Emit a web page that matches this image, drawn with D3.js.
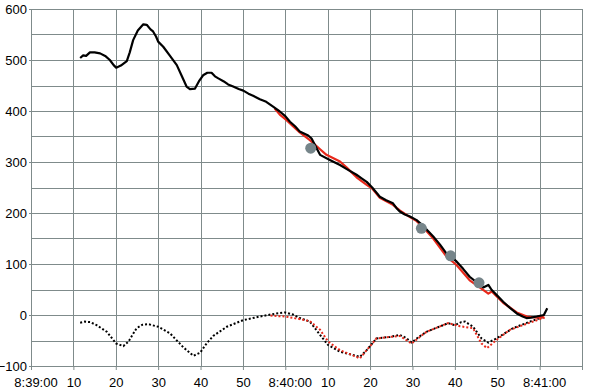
<!DOCTYPE html>
<html>
<head>
<meta charset="utf-8">
<script src="https://cdn.jsdelivr.net/npm/d3@7"></script>
<style>
  body { margin: 0; background: #fff; }
  svg text { font-family: "Liberation Sans", Arial, sans-serif; font-size: 13px; fill: #000; }
  .grid line { stroke: #7f8b8b; stroke-width: 1; }
  .axis path { display: none; }
  .axis line { stroke: #7f8b8b; }
</style>
</head>
<body>
<svg width="600" height="392"></svg>
<script>
// seconds after 8:39:00
var blackLine = [[11.6,504],[12.3,509],[13.0,508],[13.9,515],[15,515],[16.3,513],[17.5,508],[18.6,500],[19.5,490],[20.1,485],[21.2,489],[22.6,498],[23.3,515],[24.1,539],[25.2,558],[26.5,570],[27.3,569],[28.2,560],[28.8,556],[29.5,546],[30.0,536],[31.2,526],[32.8,508],[34.4,490],[35.6,468],[36.7,448],[37.5,443],[38.7,444],[39.6,458],[40.6,470],[41.6,475],[42.6,475],[43.4,468],[44.2,464],[45.5,458],[46.5,452],[47.7,448],[49,443],[50.1,440],[51.3,434],[52.4,430],[54.0,423],[55.5,418],[57.2,408],[58.7,399],[60,390],[61.1,379],[62.3,370],[63.4,360],[65.4,352],[66.2,346],[67.2,330],[68.2,314],[70.5,304],[72.9,294],[74.5,286],[76.8,275],[78,268],[79.2,261],[80.5,250],[82.3,232],[83.8,225],[85.4,219],[86.2,210],[87.0,203],[88.2,197],[89.4,193],[91.0,186],[92.5,175],[94.9,154],[96.5,138],[98.0,121],[100.4,105],[102,90],[103.5,75],[105,65],[106.7,54],[107.9,59],[108.7,49],[110,38],[111.4,26],[113,14],[114.6,3],[116,-3],[116.9,-6],[118,-5],[119.3,-3],[121,0],[121.8,13]];

var redLine = [[57.5,405],[58.7,393],[60.3,382],[61.8,370],[63.4,358],[65.8,343],[68.2,325],[69.7,314],[72.9,301],[74.5,289],[76.8,270],[79.2,255],[80.5,248],[82.3,230],[85.4,216],[87,205],[89.4,192],[91,184],[92.5,172],[94.9,150],[98,115],[100.4,98],[103.5,68],[105.7,55],[107.9,42],[108.7,46],[111.4,24],[114.6,5],[117,-3],[119.3,-5],[121,-4]];

var blackDotted = [[11.6,-15],[12.7,-13],[14,-14],[15.5,-20],[17.9,-33],[20.1,-56],[21.8,-61],[23.0,-52],[24.9,-26],[26.3,-19],[27.7,-18],[30.0,-23],[32.8,-36],[35.9,-63],[38.3,-80],[39.9,-74],[41.5,-55],[43.0,-41],[46.2,-23],[50.1,-10],[54.0,-3],[57.9,3],[59.9,5],[61.8,1],[63.4,-6],[65.8,-13],[68.2,-39],[70.1,-59],[72.9,-72],[77.6,-82],[79.2,-69],[81.5,-46],[84.7,-43],[87,-39],[88.5,-45],[89.8,-54],[91.5,-43],[93.3,-33],[96,-24],[98.4,-16],[100,-20],[101.5,-14],[102.4,-13],[104.3,-23],[106.3,-46],[107.9,-54],[109.8,-46],[113.7,-26],[117.7,-13],[121.2,-3]];

var redDotted = [[56.5,-1],[57.9,-2],[60,-3],[63.4,-8],[65.8,-12],[68.2,-29],[70.1,-52],[72.9,-69],[77.6,-85],[79.2,-69],[81.5,-46],[84.7,-43],[87,-41],[89.8,-56],[93.3,-33],[98.4,-16],[101.2,-22],[104.3,-26],[106.3,-56],[107.6,-65],[109.8,-49],[113,-29],[117.7,-15],[121.2,-5]];

var markers = [[66.0,327],[92.1,170],[99.0,116],[105.7,63]];

var yTicks = [-100, 0, 100, 200, 300, 400, 500, 600];

var svg = d3.select("svg");
var margin = {top: 9, right: 18, bottom: 26, left: 31},
    width = +svg.attr("width") - margin.left - margin.right,
    height = +svg.attr("height") - margin.top - margin.bottom;

var g = svg.append("g")
    .attr("transform", "translate(" + margin.left + "," + margin.top + ")");

var t0 = new Date(2000, 0, 1, 8, 39, 0);
function toDate(s) { return new Date(t0.getTime() + s * 1000); }

var x = d3.scaleTime()
    .domain([t0, toDate(130)])
    .range([0, width]);

var y = d3.scaleLinear()
    .domain([-100, 600])
    .range([height, 0]);

var xTicks = d3.range(0, 131, 10).map(toDate);

// grid
g.append("g").attr("class", "grid").selectAll("line")
    .data(d3.range(-100, 601, 50))
  .enter().append("line")
    .attr("x1", 0).attr("x2", width)
    .attr("y1", function(d) { return Math.round(y(d)) + 0.5; })
    .attr("y2", function(d) { return Math.round(y(d)) + 0.5; });

g.append("g").attr("class", "grid").selectAll("line")
    .data(xTicks)
  .enter().append("line")
    .attr("y1", 0).attr("y2", height)
    .attr("x1", function(d) { return Math.round(x(d)) + 0.5; })
    .attr("x2", function(d) { return Math.round(x(d)) + 0.5; });

var fmt = function(d) {
  return d.getSeconds() === 0 ? d3.timeFormat("%-H:%M:%S")(d) : d3.timeFormat("%-S")(d);
};

var xAxis = g.append("g")
    .attr("class", "axis")
    .attr("transform", "translate(0," + height + ")")
    .call(d3.axisBottom(x).tickValues(xTicks).tickSize(4).tickPadding(8)
      .tickFormat(function(d, i) { return i === xTicks.length - 1 ? "" : fmt(d); }));

// full-time labels sit a little right of their gridline
xAxis.selectAll("text")
    .attr("dx", function(d) { return d.getSeconds() === 0 ? 4.5 : 0; });

g.append("g")
    .attr("class", "axis")
    .call(d3.axisLeft(y).tickValues(yTicks).tickSize(2).tickPadding(2));

var line = d3.line()
    .x(function(d) { return x(toDate(d[0])); })
    .y(function(d) { return y(d[1]); })
    .curve(d3.curveLinear);

g.append("path").datum(blackDotted)
    .attr("fill", "none").attr("stroke", "#000").attr("stroke-width", 2)
    .attr("stroke-dasharray", "2,2").attr("d", line);

g.append("path").datum(redDotted)
    .attr("fill", "none").attr("stroke", "#e8281a").attr("stroke-width", 2)
    .attr("stroke-dasharray", "2,2").attr("d", line);

g.append("path").datum(redLine)
    .attr("fill", "none").attr("stroke", "#e8281a").attr("stroke-width", 2.2)
    .attr("stroke-linejoin", "round").attr("d", line);

g.append("path").datum(blackLine)
    .attr("fill", "none").attr("stroke", "#000").attr("stroke-width", 2.2)
    .attr("stroke-linejoin", "round").attr("d", line);

g.append("g").selectAll("circle")
    .data(markers)
  .enter().append("circle")
    .attr("cx", function(d) { return x(toDate(d[0])); })
    .attr("cy", function(d) { return y(d[1]); })
    .attr("r", 5.5)
    .attr("fill", "#76858a");
</script>
</body>
</html>
